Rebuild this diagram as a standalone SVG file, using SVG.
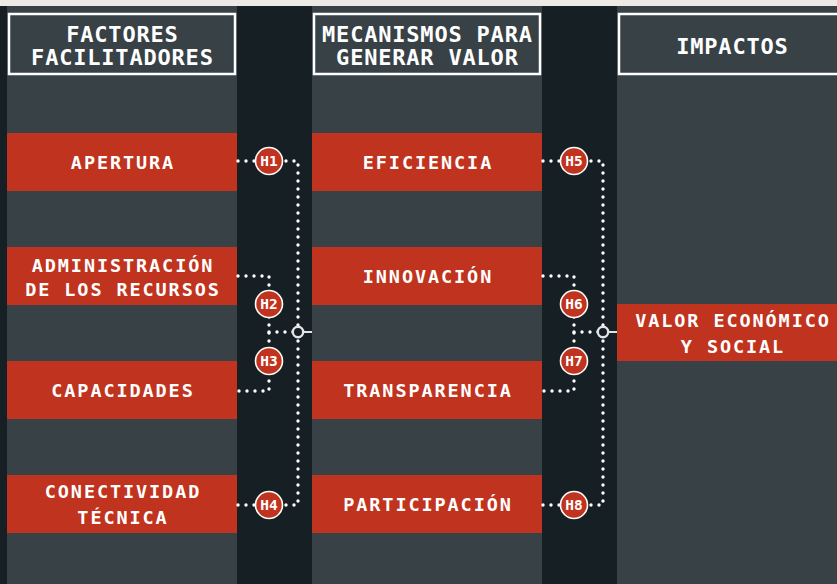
<svg xmlns="http://www.w3.org/2000/svg" width="837" height="584" viewBox="0 0 837 584">
<style>
.col{fill:#374146}
.row{fill:#c0331e}
.hdr{fill:none;stroke:#ffffff;stroke-width:2.5}
.t{font-family:"DejaVu Sans Mono","Liberation Mono",monospace;font-weight:bold;fill:#ffffff;text-anchor:middle}
.h{font-size:22px;letter-spacing:0.8px}
.b{font-size:18.5px;letter-spacing:1.9px}
.hl{font-size:14.5px}
.dot{fill:none;stroke:#ffffff;stroke-width:3.4;stroke-linecap:round;stroke-dasharray:0 8}
.hc{fill:#c0331e;stroke:#ffffff;stroke-width:1.6}
.jc{fill:#151f24;stroke:#e4e4e4;stroke-width:2.4}
.sl{stroke:#e4e4e4;stroke-width:2}
</style>
<rect width="837" height="584" fill="#151f24"/>
<rect width="837" height="6" fill="#ede9e4"/>
<rect class="col" x="7" y="6" width="230" height="578"/>
<rect class="col" x="312" y="6" width="230" height="578"/>
<rect class="col" x="617" y="6" width="230" height="578"/>

<g id="header-factores">
<rect class="hdr" x="9" y="14" width="226" height="60"/>
<text class="t h" x="122.4" y="42">FACTORES</text>
<text class="t h" x="122.4" y="65">FACILITADORES</text>
</g>
<g id="header-mecanismos">
<rect class="hdr" x="314" y="14" width="226" height="60"/>
<text class="t h" x="427.4" y="42">MECANISMOS PARA</text>
<text class="t h" x="427.4" y="65">GENERAR VALOR</text>
</g>
<g id="header-impactos">
<rect class="hdr" x="619" y="14" width="226" height="60"/>
<text class="t h" x="732.4" y="54">IMPACTOS</text>
</g>

<g id="apertura">
<rect class="row" x="7" y="133" width="230" height="58"/>
<text class="t b" x="123" y="169">APERTURA</text>
</g>
<g id="administracion">
<rect class="row" x="7" y="247" width="230" height="58"/>
<text class="t b" x="123" y="272">ADMINISTRACIÓN</text>
<text class="t b" x="123" y="296">DE LOS RECURSOS</text>
</g>
<g id="capacidades">
<rect class="row" x="7" y="361" width="230" height="58"/>
<text class="t b" x="123" y="397">CAPACIDADES</text>
</g>
<g id="conectividad">
<rect class="row" x="7" y="475" width="230" height="58"/>
<text class="t b" x="123" y="498">CONECTIVIDAD</text>
<text class="t b" x="123" y="524">TÉCNICA</text>
</g>

<g id="eficiencia">
<rect class="row" x="312" y="133" width="230" height="58"/>
<text class="t b" x="428" y="169">EFICIENCIA</text>
</g>
<g id="innovacion">
<rect class="row" x="312" y="247" width="230" height="58"/>
<text class="t b" x="428" y="283">INNOVACIÓN</text>
</g>
<g id="transparencia">
<rect class="row" x="312" y="361" width="230" height="58"/>
<text class="t b" x="428" y="397">TRANSPARENCIA</text>
</g>
<g id="participacion">
<rect class="row" x="312" y="475" width="230" height="58"/>
<text class="t b" x="428" y="511">PARTICIPACIÓN</text>
</g>

<g id="valor">
<rect class="row" x="617" y="304" width="230" height="57"/>
<text class="t b" x="733" y="327">VALOR ECONÓMICO</text>
<text class="t b" x="733" y="353">Y SOCIAL</text>
</g>

<g id="connectors">
<path class="dot" d="M238,161 H298 V505"/>
<path class="dot" d="M238,505 H298"/>
<path class="dot" d="M238,276 H269 V391 H238"/>
<path class="dot" d="M269,332 H298"/>
<line class="sl" x1="303" y1="332" x2="312" y2="332"/>
<circle class="jc" cx="298" cy="332" r="5.2"/>
<path class="dot" d="M543,161 H603 V505"/>
<path class="dot" d="M543,505 H603"/>
<path class="dot" d="M543,276 H574 V391 H543"/>
<path class="dot" d="M574,332 H603"/>
<line class="sl" x1="608" y1="332" x2="617" y2="332"/>
<circle class="jc" cx="603" cy="332" r="5.2"/>
</g>

<g id="h1"><circle class="hc" cx="269" cy="161" r="13.5"/><text class="t hl" x="269" y="166.3">H1</text></g>
<g id="h2"><circle class="hc" cx="269" cy="304" r="13.5"/><text class="t hl" x="269" y="309.3">H2</text></g>
<g id="h3"><circle class="hc" cx="269" cy="361" r="13.5"/><text class="t hl" x="269" y="366.3">H3</text></g>
<g id="h4"><circle class="hc" cx="269" cy="505" r="13.5"/><text class="t hl" x="269" y="510.3">H4</text></g>
<g id="h5"><circle class="hc" cx="574" cy="161" r="13.5"/><text class="t hl" x="574" y="166.3">H5</text></g>
<g id="h6"><circle class="hc" cx="574" cy="304" r="13.5"/><text class="t hl" x="574" y="309.3">H6</text></g>
<g id="h7"><circle class="hc" cx="574" cy="361" r="13.5"/><text class="t hl" x="574" y="366.3">H7</text></g>
<g id="h8"><circle class="hc" cx="574" cy="505" r="13.5"/><text class="t hl" x="574" y="510.3">H8</text></g>
</svg>
